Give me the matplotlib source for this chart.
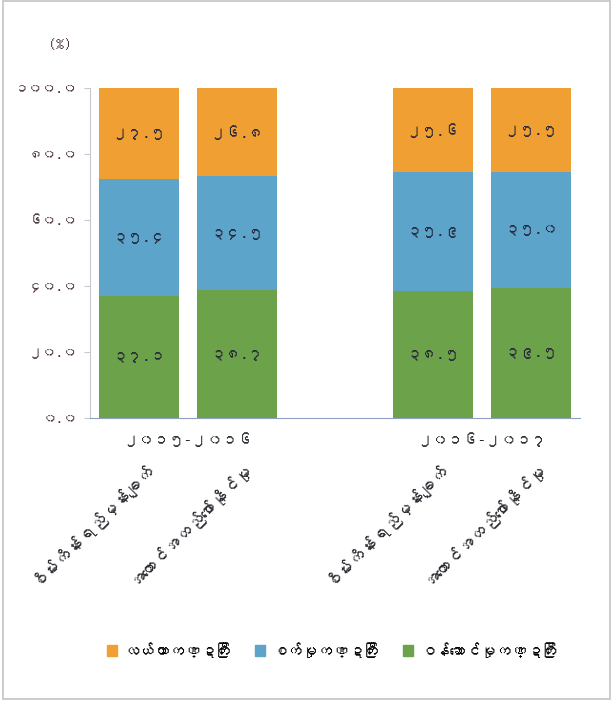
import matplotlib
matplotlib.use("Agg")
import matplotlib.pyplot as plt
from matplotlib import font_manager, ft2font
from matplotlib.patches import Patch, Rectangle
import numpy as np

# Data (share of GDP by sector, %)
groups = ["၂၀၁၅-၂၀၁၆", "၂၀၁၆-၂၀၁၇"]
categories = ["စိမ်းကိန်းရည်မှန်းချက်", "အကောင်အထည်ဖော်နိုင်မှု"]
series_names = ["လယ်ယာကဏ္ဍကြီး", "စက်မှုကဏ္ဍကြီး", "ဝန်ဆောင်မှုကဏ္ဍကြီး"]
agriculture = [27.5, 26.8, 25.6, 25.5]
industry = [35.4, 34.5, 35.9, 35.0]
services = [37.1, 38.7, 38.5, 39.5]
y_ticks = [0, 20, 40, 60, 80, 100]

colors = {"agri": "#F0A032", "ind": "#5DA4CB", "serv": "#6CA24A"}


def find_myanmar_font():
    for f in font_manager.fontManager.ttflist:
        try:
            if 0x1041 in ft2font.FT2Font(f.fname).get_charmap():
                return f.name
        except Exception:
            pass
    return None


mm_font = find_myanmar_font()
family = [mm_font, "DejaVu Sans"] if mm_font else ["DejaVu Sans"]
plt.rcParams["font.family"] = family

MM_DIGITS = str.maketrans("0123456789", "၀၁၂၃၄၅၆၇၈၉")


def mm(text):
    return str(text).translate(MM_DIGITS)


fig = plt.figure(figsize=(6.14, 7.09), dpi=100)
ax = fig.add_axes([0.1466, 0.4104, 0.798, 0.4655])

# outer frame
fig.patches.append(Rectangle((0.005, 0.014), 0.989, 0.984, transform=fig.transFigure,
                             fill=False, edgecolor="#c4c4c8", linewidth=1.2))

x = [0, 1, 3, 4]
width = 0.82
ax.bar(x, services, width, color=colors["serv"])
ax.bar(x, industry, width, bottom=services, color=colors["ind"])
bottom2 = np.array(services) + np.array(industry)
ax.bar(x, agriculture, width, bottom=bottom2, color=colors["agri"])

label_color = "#26263a"
for i, xi in enumerate(x):
    ax.text(xi, services[i] / 2, mm(f"{services[i]:.1f}"), ha="center", va="center",
            fontsize=11, fontweight="bold", color=label_color)
    ax.text(xi, services[i] + industry[i] / 2, mm(f"{industry[i]:.1f}"), ha="center",
            va="center", fontsize=11, fontweight="bold", color=label_color)
    ax.text(xi, bottom2[i] + agriculture[i] / 2, mm(f"{agriculture[i]:.1f}"), ha="center",
            va="center", fontsize=11, fontweight="bold", color=label_color)

ax.set_xlim(-0.5, 4.5)
ax.set_ylim(0, 100)
ax.set_yticks(y_ticks)
ax.set_yticklabels([mm(f"{t:.1f}") for t in y_ticks], fontsize=10, fontweight="bold",
                   color="#4a3440")
ax.set_xticks([])
ax.tick_params(axis="y", length=4, color="#c8c8d0", pad=5)
for s in ["top", "right"]:
    ax.spines[s].set_visible(False)
ax.spines["left"].set_color("#c8c8d0")
ax.spines["bottom"].set_color("#8fa0c0")

# group labels
for g, gx in zip(groups, [0.5, 3.5]):
    ax.text(gx, -6.5, g, ha="center", va="center", fontsize=11, fontweight="bold",
            color="#2a2a30")

# category labels rotated
for xi, j in zip(x, [0, 1, 0, 1]):
    ax.text(xi + 0.05, -12, categories[j], rotation=45, rotation_mode="anchor",
            ha="right", va="top", fontsize=12, fontweight="bold", color="#2a2a30",
            clip_on=False)

fig.text(0.098, 0.937, "(%)", fontsize=12, fontweight="bold", color="#4a3440",
         ha="center", va="center")

handles = [Patch(color=colors["agri"]), Patch(color=colors["ind"]), Patch(color=colors["serv"])]
fig.legend(handles, series_names, loc="center", bbox_to_anchor=(0.54, 0.083), ncol=3,
           frameon=False, handlelength=0.7, handleheight=0.7, handletextpad=0.4,
           columnspacing=1.6, prop={"size": 11, "weight": "bold"})

fig.savefig("out.png", dpi=100)
